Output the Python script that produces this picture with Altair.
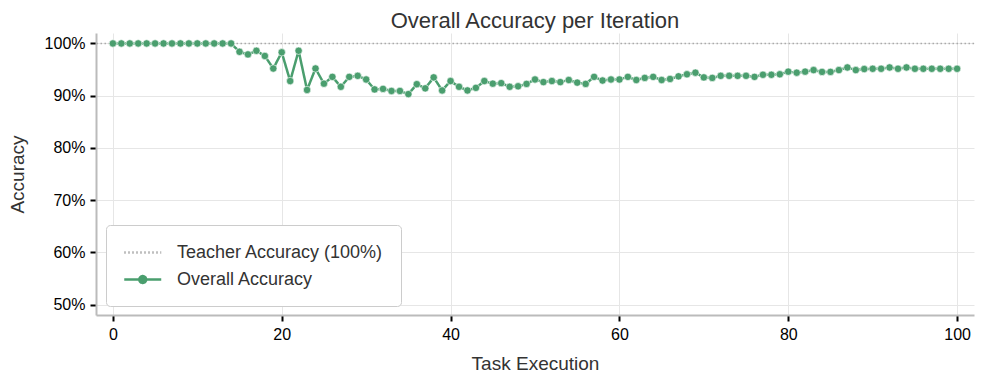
import altair as alt
import pandas as pd

iterations = list(range(101))
accuracy = [
    100, 100, 100, 100, 100, 100, 100, 100, 100, 100,
    100, 100, 100, 100, 100, 98.4, 97.9, 98.6, 97.6, 95.2,
    98.3, 92.8, 98.6, 91.1, 95.2, 92.3, 93.6, 91.7, 93.6, 93.8,
    93.1, 91.2, 91.3, 90.9, 90.9, 90.3, 92.2, 91.4, 93.5, 91.0,
    92.8, 91.7, 91.0, 91.5, 92.8, 92.3, 92.4, 91.7, 91.8, 92.25,
    93.1, 92.6, 92.8, 92.6, 93.0, 92.5, 92.25, 93.6, 92.9, 93.1,
    93.1, 93.6, 93.0, 93.4, 93.6, 93.0, 93.2, 93.7, 94.1, 94.4,
    93.5, 93.4, 93.8, 93.8, 93.8, 93.8, 93.6, 94.0, 94.0, 94.1,
    94.6, 94.4, 94.6, 94.9, 94.55, 94.55, 94.9, 95.4, 94.9, 95.1,
    95.15, 95.15, 95.4, 95.15, 95.4, 95.15, 95.15, 95.15, 95.15, 95.15,
    95.15,
]
teacher_accuracy = [100]
series_names = ["Teacher Accuracy (100%)", "Overall Accuracy"]
x_ticks = [0, 20, 40, 60, 80, 100]
y_ticks = [50, 60, 70, 80, 90, 100]

GREEN = "#4a9e6e"
GRAY = "#aaaaaa"
FONT = "Liberation Sans"

df = pd.DataFrame({"iter": iterations, "acc": accuracy, "series": series_names[1]})
df_t = pd.DataFrame({"acc": teacher_accuracy, "series": series_names[0]})

xs = alt.Scale(domain=[-2, 102], nice=False, zero=False)
ys = alt.Scale(domain=[48, 102], nice=False, zero=False)

legend = alt.Legend(
    title=None,
    orient="none",
    legendX=10,
    legendY=192,
    padding=17,
    cornerRadius=4,
    strokeColor="#cccccc",
    fillColor="white",
    labelFont=FONT,
    labelFontSize=18,
    labelColor="#333333",
    labelOffset=33,
    labelLimit=400,
    rowPadding=7,
    symbolSize=342,
    symbolStrokeWidth=2.5,
)

color = alt.Color("series:N", scale=alt.Scale(domain=series_names, range=[GRAY, GREEN]), legend=legend)
dash = alt.StrokeDash("series:N", scale=alt.Scale(domain=series_names, range=[[1.5, 2.5], [1, 0]]), legend=legend)
shape = alt.Shape(
    "series:N",
    scale=alt.Scale(
        domain=series_names,
        range=["M-1,0H3", "M-1,0H3M0.63,0A0.37,0.37 0 1,0 1.37,0A0.37,0.37 0 1,0 0.63,0Z"],
    ),
    legend=legend,
)

x_enc = alt.X(
    "iter:Q", scale=xs, title="Task Execution",
    axis=alt.Axis(values=x_ticks, titlePadding=12),
)
y_enc = alt.Y(
    "acc:Q", scale=ys, title="Accuracy",
    axis=alt.Axis(values=y_ticks, labelExpr="datum.value + '%'", titlePadding=17),
)

rule = alt.Chart(df_t).mark_rule(strokeWidth=1.5).encode(
    y=alt.Y("acc:Q", scale=ys), color=color, strokeDash=dash
)
line = alt.Chart(df).mark_line(strokeWidth=2.5).encode(
    x=x_enc, y=y_enc, color=color, strokeDash=dash
)
points = alt.Chart(df).mark_circle(size=55, opacity=1, stroke="white", strokeWidth=0.6).encode(
    x=alt.X("iter:Q", scale=xs), y=alt.Y("acc:Q", scale=ys), color=color
)
# legend-only layer: supplies the marker symbol for the merged legend
legend_helper = alt.Chart(df).mark_point(filled=True).encode(
    x=alt.X("iter:Q", scale=xs), y=alt.Y("acc:Q", scale=ys), color=color, shape=shape
).transform_filter("false")

chart = (
    alt.layer(rule, line, points, legend_helper)
    .properties(
        width=878,
        height=282,
        autosize=alt.AutoSizeParams(type="none"),
        padding={"left": 88, "top": 25, "right": 2, "bottom": 60},
        title=alt.TitleParams(
            "Overall Accuracy per Iteration", anchor="middle", fontSize=22,
            font=FONT, fontWeight="normal", color="#333333", offset=0,
        ),
    )
    .configure_view(stroke=None)
    .configure_axis(
        domainColor="#bbbbbb", domainWidth=2,
        tickColor="#000000", tickWidth=2, tickSize=6,
        labelFont=FONT, labelFontSize=16, labelColor="#000000", labelPadding=5,
        titleFont=FONT, titleFontSize=19, titleColor="#333333", titleFontWeight="normal",
        gridColor="#e6e6e6", gridWidth=1,
    )
)

chart.save("out.html", embed_options={"renderer": "svg", "actions": False})
